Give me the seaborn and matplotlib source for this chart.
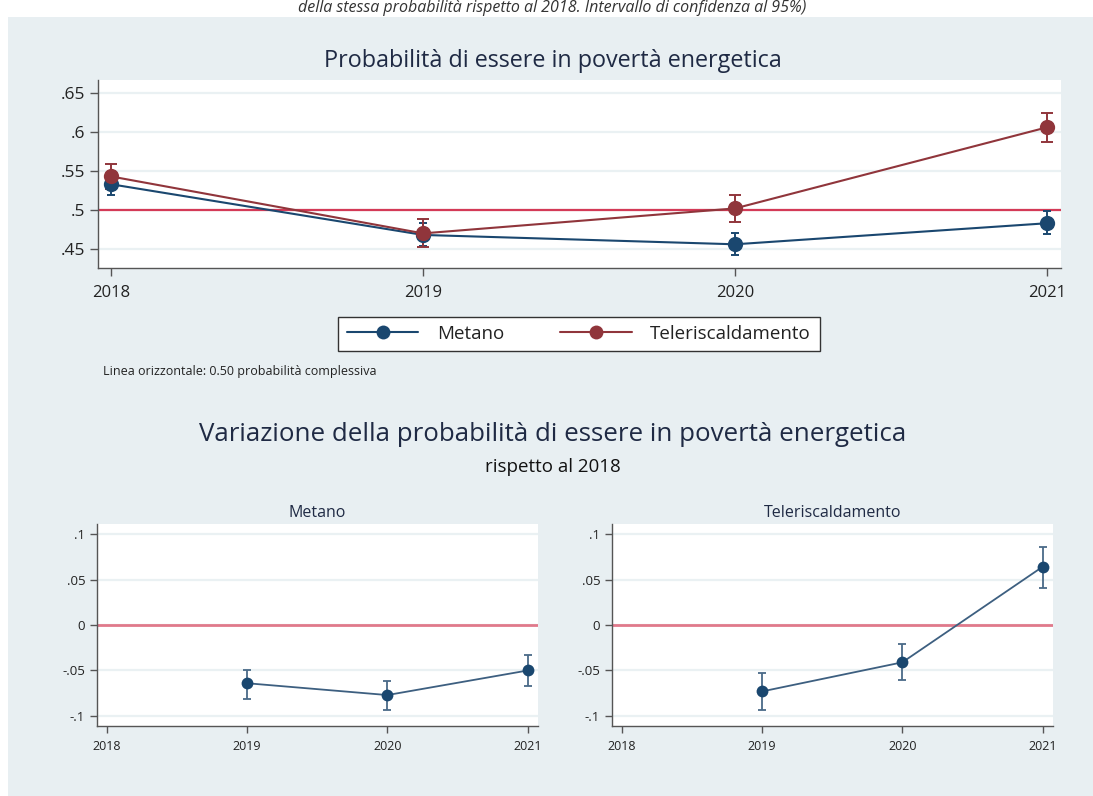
import numpy as np
import pandas as pd
import matplotlib
matplotlib.use("Agg")
import matplotlib.pyplot as plt
import seaborn as sns

# ---- data -------------------------------------------------------------
years = [2018, 2019, 2020, 2021]
groups = ["Metano", "Teleriscaldamento"]

prob_metano = [0.533, 0.468, 0.456, 0.483]
prob_metano_lo = [0.519, 0.454, 0.442, 0.469]
prob_metano_hi = [0.547, 0.483, 0.470, 0.499]

prob_teler = [0.543, 0.470, 0.502, 0.606]
prob_teler_lo = [0.527, 0.453, 0.485, 0.587]
prob_teler_hi = [0.559, 0.488, 0.519, 0.625]

delta_years = [2019, 2020, 2021]
delta_metano = [-0.064, -0.077, -0.050]
delta_metano_lo = [-0.081, -0.093, -0.067]
delta_metano_hi = [-0.049, -0.061, -0.033]

delta_teler = [-0.073, -0.041, 0.064]
delta_teler_lo = [-0.093, -0.060, 0.041]
delta_teler_hi = [-0.053, -0.021, 0.086]

top_yticks = [0.45, 0.5, 0.55, 0.6, 0.65]
top_yticklabels = [".45", ".5", ".55", ".6", ".65"]
bot_yticks = [-0.1, -0.05, 0, 0.05, 0.1]
bot_yticklabels = ["-.1", "-.05", "0", ".05", ".1"]

# ---- style ------------------------------------------------------------
sns.set_theme(style="white")
plt.rcParams["font.family"] = ["Open Sans", "DejaVu Sans"]

BG = "#e8eff2"
BLUE = "#1a476f"
RED = "#90353b"
REFLINE = "#d43a57"
REFLINE2 = "#e0798b"
GRID = "#eaf1f3"
TXT = "#1f2a44"

W, H = 1093, 796
fig = plt.figure(figsize=(W / 100, H / 100), dpi=100)
fig.patch.set_facecolor("white")

# background panel behind all axes
fig.patches.append(plt.Rectangle((8 / W, 0), 1 - 8 / W, 1 - 17 / H,
                                 transform=fig.transFigure,
                                 facecolor=BG, edgecolor="none", zorder=-10))

fig.text(552 / W, 1 - 0.5 / H,
         "della stessa probabilità rispetto al 2018. Intervallo di confidenza al 95%)",
         ha="center", va="top", fontsize=11.5, style="italic", color="#333333")


def px_axes(left, top, right, bottom):
    return fig.add_axes([left / W, 1 - bottom / H, (right - left) / W, (bottom - top) / H])


def style_axes(ax, fs_y, fs_x):
    ax.set_facecolor("white")
    for s in ["top", "right"]:
        ax.spines[s].set_visible(False)
    for s in ["left", "bottom"]:
        ax.spines[s].set_color("#555555")
        ax.spines[s].set_linewidth(1.0)
    ax.tick_params(axis="both", direction="out", length=6, width=1,
                   color="#555555", labelcolor="#222222",
                   bottom=True, left=True)
    ax.tick_params(axis="y", labelsize=fs_y)
    ax.tick_params(axis="x", labelsize=fs_x)
    ax.yaxis.grid(True, color=GRID, linewidth=1.6)
    ax.set_axisbelow(True)
    ax.set_xlabel("")
    ax.set_ylabel("")


# ---- top panel: probability by group -----------------------------------
top = pd.DataFrame({
    "anno": years * 2,
    "prob": prob_metano + prob_teler,
    "lo": prob_metano_lo + prob_teler_lo,
    "hi": prob_metano_hi + prob_teler_hi,
    "gruppo": [groups[0]] * 4 + [groups[1]] * 4,
})

ax = px_axes(98, 80, 1061, 268)
ax.axhline(0.5, color=REFLINE, lw=1.6, zorder=1)
palette = {groups[0]: BLUE, groups[1]: RED}
caps = {groups[0]: 3, groups[1]: 4}
for g in groups:
    d = top[top["gruppo"] == g]
    ax.errorbar(d["anno"], d["prob"],
                yerr=[d["prob"] - d["lo"], d["hi"] - d["prob"]],
                fmt="none", ecolor=palette[g], elinewidth=1.4,
                capsize=caps[g], capthick=1.4, zorder=2)
sns.lineplot(data=top, x="anno", y="prob", hue="gruppo", palette=palette,
             marker="o", markersize=11, markeredgewidth=0, linewidth=1.5,
             ax=ax, legend=False, zorder=3)
ax.set_xlim(2017.958, 2021.045)
ax.set_ylim(0.4256, 0.6667)
ax.set_xticks(years)
ax.set_xticklabels([str(y) for y in years])
ax.set_yticks(top_yticks)
ax.set_yticklabels(top_yticklabels)
style_axes(ax, 12.5, 12)
ax.tick_params(axis="x", pad=6)

fig.text(553 / W, 1 - 61 / H, "Probabilità di essere in povertà energetica",
         ha="center", va="center", fontsize=16.8, color=TXT)

# legend
handles = [plt.Line2D([], [], color=palette[g], marker="o", markersize=10,
                      markeredgewidth=0, lw=1.5) for g in groups]
leg = fig.legend(handles, groups, loc="center", bbox_to_anchor=(579 / W, 1 - 334 / H),
                 ncol=2, fontsize=13.5, frameon=True, fancybox=False, framealpha=1,
                 handlelength=3.8, columnspacing=3.0, handletextpad=1.0,
                 borderpad=0.45)
leg.get_frame().set_edgecolor("#333333")
leg.get_frame().set_linewidth(1.0)
leg.get_frame().set_facecolor("white")
for t in leg.get_texts():
    t.set_color("#222222")

fig.text(103 / W, 1 - 372 / H, "Linea orizzontale: 0.50 probabilità complessiva",
         ha="left", va="center", fontsize=9, color="#222222")

# ---- bottom panels: change with respect to 2018 ------------------------
fig.text(553 / W, 1 - 435 / H,
         "Variazione della probabilità di essere in povertà energetica",
         ha="center", va="center", fontsize=18.6, color=TXT)
fig.text(553 / W, 1 - 467 / H, "rispetto al 2018",
         ha="center", va="center", fontsize=13.5, color="#111111")

delta = {
    groups[0]: (delta_metano, delta_metano_lo, delta_metano_hi),
    groups[1]: (delta_teler, delta_teler_lo, delta_teler_hi),
}
boxes = {groups[0]: (97, 524, 538, 726), groups[1]: (612, 524, 1053, 726)}
for g in groups:
    val, lo, hi = delta[g]
    d = pd.DataFrame({"anno": delta_years, "delta": val, "lo": lo, "hi": hi})
    axb = px_axes(*boxes[g])
    axb.axhline(0, color=REFLINE2, lw=2.0, zorder=1)
    axb.errorbar(d["anno"], d["delta"],
                 yerr=[d["delta"] - d["lo"], d["hi"] - d["delta"]],
                 fmt="none", ecolor="#4a6a88", elinewidth=1.3,
                 capsize=3, capthick=1.3, zorder=2)
    sns.lineplot(data=d, x="anno", y="delta", color=BLUE, marker="o",
                 markersize=8.5, markeredgewidth=0, linewidth=1.3,
                 ax=axb, legend=False, zorder=3)
    axb.lines[-1].set_color("#3d5f80")
    axb.lines[-1].set_markerfacecolor(BLUE)
    axb.set_xlim(2017.93, 2021.074)
    axb.set_ylim(-0.111, 0.111)
    axb.set_xticks(years)
    axb.set_xticklabels([str(y) for y in years])
    axb.set_yticks(bot_yticks)
    axb.set_yticklabels(bot_yticklabels)
    style_axes(axb, 9.5, 9)
    axb.tick_params(axis="both", length=5)
    axb.tick_params(axis="x", pad=5)
    axb.set_title(g, fontsize=11.5, color=TXT, pad=5)

fig.savefig("out.png", dpi=100, facecolor=fig.get_facecolor())
